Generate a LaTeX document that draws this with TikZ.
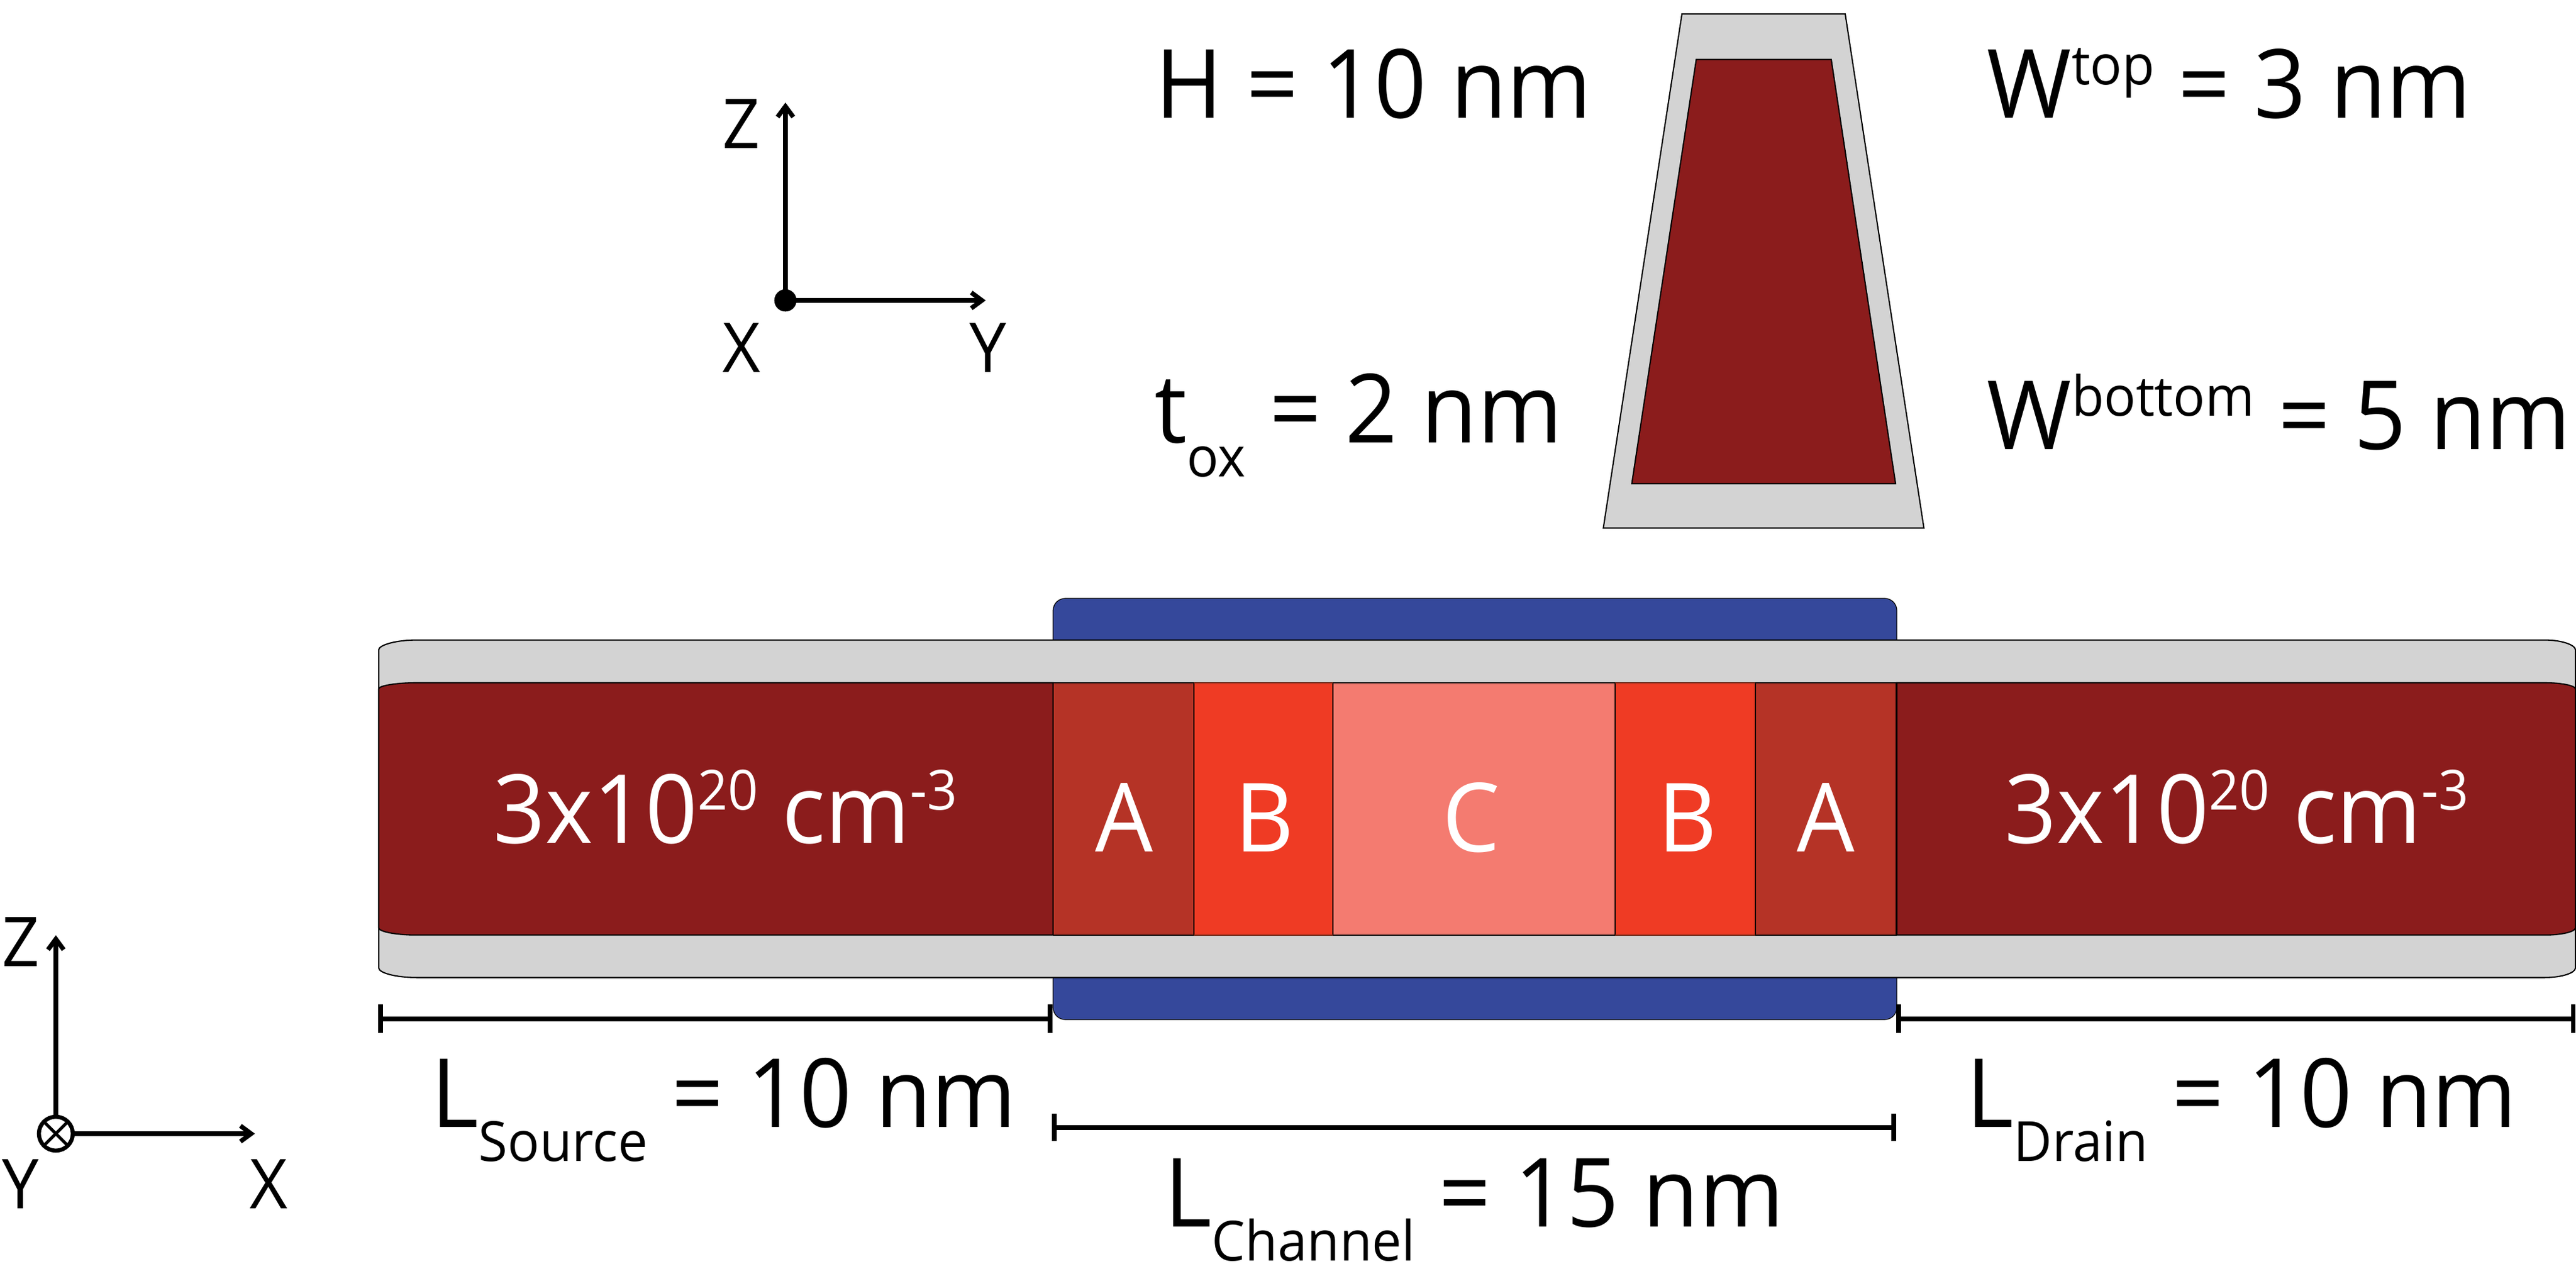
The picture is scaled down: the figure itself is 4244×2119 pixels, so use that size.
\documentclass[tikz,border=0pt]{standalone}
\usepackage{fontspec}
\usetikzlibrary{arrows.meta}
\newfontfamily\labfont[FakeStretch=0.955]{Open Sans}
\newlength\px \setlength\px{0.24pt}
\newcommand{\bigf}{\labfont\fontsize{37.8}{40}\selectfont}
\newcommand{\smallf}{\labfont\fontsize{27.2}{30}\selectfont}
\newcommand{\supf}{\labfont\fontsize{21.9}{24}\selectfont}
\newcommand{\upsc}[1]{\raisebox{55\px}{\supf #1}}
\newcommand{\dnsc}[1]{\raisebox{-56\px}{\supf #1}}
\definecolor{oxide}{HTML}{D3D3D3}
\definecolor{doped}{HTML}{8B1C1C}
\definecolor{regA}{HTML}{B53326}
\definecolor{regB}{HTML}{EF3B24}
\definecolor{regC}{HTML}{F47B70}
\definecolor{gatec}{HTML}{35489B}
\definecolor{edgeB}{HTML}{6E2412}
\tikzset{
  x=0.24pt, y=-0.24pt,
  outl/.style={draw=black, line width=0.5pt},
  thin outl/.style={draw=black, line width=0.3pt},
  dimline/.style={draw=black, line width=1.92pt},
  tick/.style={draw=black, line width=1.7pt},
  axis/.style={draw=black, line width=1.8pt, -{Straight Barb[length=4.2pt,width=6.2pt]}},
  lab/.style={inner sep=0pt, anchor=base west, font=\bigf, text=black},
  wlab/.style={lab, text=white},
  letter/.style={inner sep=0pt, anchor=base, font=\bigf, text=white},
  axlab/.style={inner sep=0pt, anchor=base west, font=\smallf, text=black}
}
\begin{document}
\begin{tikzpicture}
\useasboundingbox (0,0) rectangle (4244,2119);
\fill[white] (0,0) rectangle (4244,2119);
% cross-section
\filldraw[fill=oxide, outl] (2771,23) -- (3040,23) -- (3169.6,870) -- (2641.5,870) -- cycle;
\filldraw[fill=doped, outl] (2794.6,98) -- (3017,98) -- (3123,797) -- (2688.4,797) -- cycle;
% gate
\filldraw[fill=gatec, thin outl, rounded corners=4.8pt] (1735,986) rectangle (3125,1680);
% oxide body
\filldraw[fill=oxide, outl] (686,1054.6) -- (4193,1054.6)
  .. controls (4221,1054.6) and (4243,1063) .. (4243,1070.6) -- (4243,1595)
  .. controls (4243,1603) and (4221,1610.7) .. (4193,1610.7) -- (686,1610.7)
  .. controls (652,1610.7) and (624,1603) .. (624,1595) -- (624,1070.6)
  .. controls (624,1063) and (652,1054.6) .. (686,1054.6) -- cycle;
% source and drain
\filldraw[fill=doped, outl] (686,1125) -- (1735,1125) -- (1735,1540.7) -- (686,1540.7)
  .. controls (652,1540.7) and (624,1535) .. (624,1529) -- (624,1135)
  .. controls (624,1130) and (652,1125) .. (686,1125) -- cycle;
\filldraw[fill=doped, outl] (3125,1125) -- (4193,1125)
  .. controls (4221,1125) and (4243,1130) .. (4243,1135) -- (4243,1529)
  .. controls (4243,1535) and (4221,1540.7) .. (4193,1540.7) -- (3125,1540.7) -- cycle;
% channel regions
\fill[regA] (1735,1125) rectangle (1967,1540.7);
\fill[regB] (1967,1125) rectangle (2196,1540.7);
\fill[regC] (2196,1125) rectangle (2661,1540.7);
\fill[regB] (2661,1125) rectangle (2892,1540.7);
\fill[regA] (2892,1125) rectangle (3124,1540.7);
\foreach \xx in {1735,1967,2196,2661,2892,3124}
  \draw[thin outl] (\xx,1125) -- (\xx,1540.7);
\draw[outl] (1735,1125) -- (3125,1125) (1735,1540.7) -- (3125,1540.7);
\draw[draw=edgeB, line width=0.5pt] (1967,1125) -- (2196,1125) (2661,1125) -- (2892,1125)
  (1967,1540.7) -- (2196,1540.7) (2661,1540.7) -- (2892,1540.7);
% dimension lines
\coordinate (sl) at (627,1678.6); \coordinate (sr) at (1730,1678.6);
\coordinate (dl) at (3128,1678.6); \coordinate (dr) at (4239.6,1678.6);
\coordinate (cl) at (1737,1857.7); \coordinate (cr) at (3120,1857.7);
\foreach \a/\b in {sl/sr,dl/dr,cl/cr} \draw[dimline] (\a) -- (\b);
\foreach \a in {sl,sr,dl,dr} \draw[tick] ([yshift=-5.6pt]\a) -- ([yshift=5.6pt]\a);
\foreach \a in {cl,cr} \draw[tick] ([yshift=-5.4pt]\a) -- ([yshift=5.4pt]\a);
% upper axes
\coordinate (o1) at (1294,495); \coordinate (z1) at (1294,169); \coordinate (y1) at (1624,495);
\draw[axis] (o1) -- (z1);
\draw[axis] (o1) -- (y1);
\fill[black] (o1) circle[radius=4.4pt];
\node[axlab] (zlabA) at (1190,245) {Z};
\node[axlab] (xlabA) at (1190,613.5) {X};
\node[axlab] (ylabA) at (1597,613.5) {Y};
% lower axes
\coordinate (o2) at (92,1868); \coordinate (z2) at (92,1541); \coordinate (x2) at (420,1868);
\draw[axis] ([yshift=7pt]o2) -- (z2);
\draw[axis] ([xshift=7pt]o2) -- (x2);
\filldraw[fill=white, draw=black, line width=1.6pt] (o2) circle[radius=6.7pt];
\draw[black, line width=1.2pt] ([shift={(-4.7pt,-4.7pt)}]o2) -- ([shift={(4.7pt,4.7pt)}]o2)
  ([shift={(-4.7pt,4.7pt)}]o2) -- ([shift={(4.7pt,-4.7pt)}]o2);
\node[axlab] (zlabB) at (3,1592) {Z};
\node[axlab] (ylabB) at (3,1991.5) {Y};
\node[axlab] (xlabB) at (411,1991.5) {X};
% doping labels
\node[wlab] (srcdop) at (812,1389) {3x10\upsc{20} cm\upsc{-3}};
\node[wlab] (drndop) at (3302,1389) {3x10\upsc{20} cm\upsc{-3}};
\node[letter] (a1) at (1852,1403) {A};
\node[letter] (b1) at (2083,1403) {B};
\node[letter] (c1) at (2424,1403) {C};
\node[letter] (b2) at (2780,1403) {B};
\node[letter] (a2) at (3008,1403) {A};
% dimension labels
\node[lab] (hlab) at (1903,195) {H = 10 nm};
\node[lab] (toxlab) at (1902,729.6) {t\dnsc{ox} = 2 nm};
\node[lab] (wtlab) at (3273,194.5) {W\upsc{top} = 3 nm};
\node[lab] (wblab) at (3273,741) {W\upsc{bottom} = 5 nm};
\node[lab] (lslab) at (710,1857.7) {L\dnsc{Source} = 10 nm};
\node[lab] (lclab) at (1918,2021.7) {L\dnsc{Channel} = 15 nm};
\node[lab] (ldlab) at (3239,1857.7) {L\dnsc{Drain} = 10 nm};
\end{tikzpicture}
\end{document}
